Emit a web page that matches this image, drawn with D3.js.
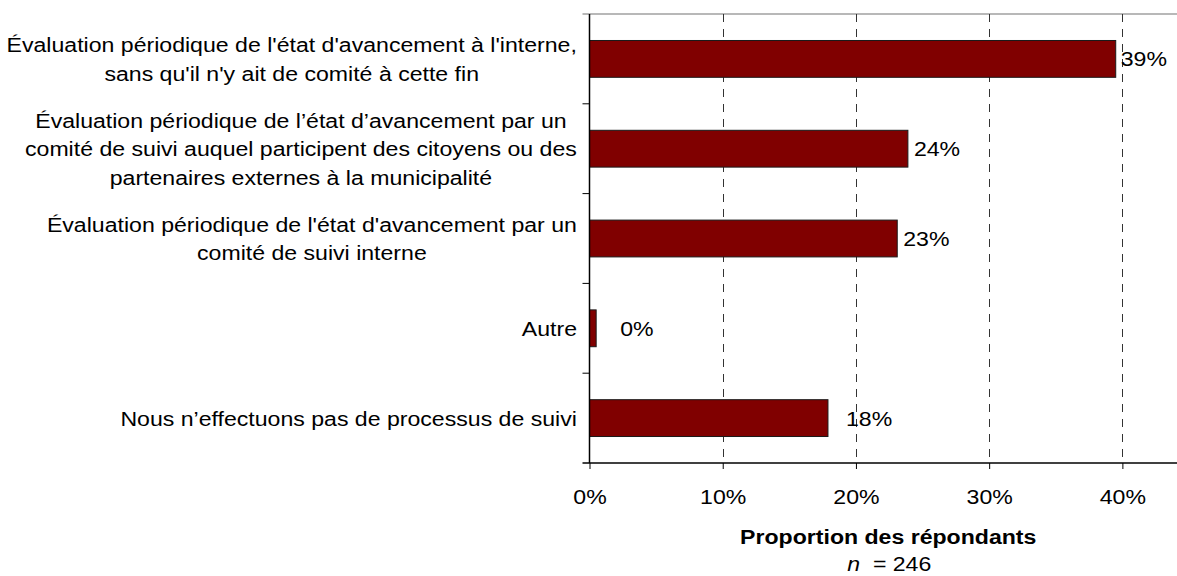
<!DOCTYPE html>
<html>
<head>
<meta charset="utf-8">
<script src="https://cdn.jsdelivr.net/npm/d3@7"></script>
<style>
  body { margin: 0; background: #fff; }
  svg { display: block; font-family: "Liberation Sans", Arial, sans-serif; }
</style>
</head>
<body>
<div id="chart"></div>
<script>
// Données
const categories = [
  ["Évaluation périodique de l'état d'avancement à l'interne,", "sans qu'il n'y ait de comité à cette fin"],
  ["Évaluation périodique de l’état d’avancement par un", "comité de suivi auquel participent des citoyens ou des", "partenaires externes à la municipalité"],
  ["Évaluation périodique de l'état d'avancement par un", "comité de suivi interne"],
  ["Autre"],
  ["Nous n’effectuons pas de processus de suivi"]
];
const values = [0.395, 0.239, 0.231, 0.005, 0.179];
const valueLabels = ["39%", "24%", "23%", "0%", "18%"];
const tickValues = [0, 0.1, 0.2, 0.3, 0.4];
const axisTitle = "Proportion des répondants";
const sampleSize = 246;

// décalage des étiquettes (comme dans le graphique d'origine)
const labelDx = [5, 6, 6, 24, 18];

const width = 1177, height = 576;
const margin = { top: 14, right: 0, bottom: 113, left: 589.5 };
const fontSize = 21;
const stretch = 'scale(1.1,1)'; // le texte d'origine est un peu élargi

const svg = d3.select('#chart').append('svg')
  .attr('width', width)
  .attr('height', height);

const x = d3.scaleLinear()
  .domain([0, 0.441])
  .range([margin.left, width - margin.right]);

const y = d3.scaleBand()
  .domain(d3.range(categories.length))
  .range([margin.top, height - margin.bottom])
  .paddingInner(0.59)
  .paddingOuter(0.295);

const plotTop = margin.top, plotBottom = height - margin.bottom;

// Bordure supérieure grise
svg.append('line')
  .attr('x1', margin.left - 7).attr('x2', width)
  .attr('y1', plotTop).attr('y2', plotTop)
  .attr('stroke', '#a0a0a0').attr('stroke-width', 1.5);

// Grille verticale pointillée
svg.append('g')
  .selectAll('line')
  .data(tickValues.filter(d => d > 0))
  .join('line')
  .attr('x1', d => Math.round(x(d)) + 0.5)
  .attr('x2', d => Math.round(x(d)) + 0.5)
  .attr('y1', plotTop)
  .attr('y2', plotBottom)
  .attr('stroke', '#333')
  .attr('stroke-width', 1)
  .attr('stroke-dasharray', '8,7');

// Barres
svg.append('g')
  .selectAll('rect')
  .data(values)
  .join('rect')
  .attr('x', x(0))
  .attr('y', (d, i) => y(i))
  .attr('width', d => x(d) - x(0))
  .attr('height', y.bandwidth())
  .attr('fill', '#800000')
  .attr('stroke', '#1a1a1a')
  .attr('stroke-width', 1);

// Étiquettes de valeur
svg.append('g')
  .selectAll('text')
  .data(values)
  .join('text')
  .attr('transform', (d, i) => `translate(${x(d) + labelDx[i]},${y(i) + y.bandwidth() / 2}) ${stretch}`)
  .attr('dy', '0.36em')
  .attr('font-size', fontSize)
  .attr('fill', '#000')
  .text((d, i) => valueLabels[i]);

// Axe X
const xAxis = d3.axisBottom(x)
  .tickValues(tickValues)
  .tickFormat(d3.format('.0%'))
  .tickSize(6)
  .tickSizeOuter(0)
  .tickPadding(20);

const gx = svg.append('g')
  .attr('transform', `translate(0,${plotBottom})`)
  .call(xAxis);
gx.select('.domain').remove();
gx.selectAll('.tick line').attr('stroke', '#000');
gx.selectAll('.tick text')
  .attr('font-size', fontSize)
  .attr('font-family', '"Liberation Sans", Arial, sans-serif')
  .attr('fill', '#000')
  .attr('transform', stretch);
svg.append('line')
  .attr('x1', margin.left - 7).attr('x2', width)
  .attr('y1', plotBottom).attr('y2', plotBottom)
  .attr('stroke', '#000').attr('stroke-width', 1.5);

// Axe Y (traits aux limites des catégories)
svg.append('line')
  .attr('x1', margin.left).attr('x2', margin.left)
  .attr('y1', plotTop).attr('y2', plotBottom)
  .attr('stroke', '#000').attr('stroke-width', 1.5);

const step = y.step();
const boundaries = d3.range(categories.length + 1).map(i => y(0) - y.paddingOuter() * step + i * step);
svg.append('g')
  .selectAll('line')
  .data(boundaries.slice(1, -1))
  .join('line')
  .attr('x1', margin.left - 7).attr('x2', margin.left)
  .attr('y1', d => d).attr('y2', d => d)
  .attr('stroke', '#000').attr('stroke-width', 1);

// Libellés des catégories : bloc aligné à droite, lignes centrées
const lineH = 28.5;
const labelRight = 577;
const catG = svg.append('g');
categories.forEach((lines, i) => {
  const cy = y(i) + y.bandwidth() / 2;
  const g = catG.append('g');
  const t = g.append('text')
    .attr('font-size', fontSize)
    .attr('fill', '#000')
    .attr('text-anchor', 'middle');
  lines.forEach((ln, j) => {
    t.append('tspan')
      .attr('x', 0)
      .attr('y', (j - (lines.length - 1) / 2) * lineH)
      .attr('dy', '0.36em')
      .text(ln);
  });
  const maxW = d3.max(t.selectAll('tspan').nodes(), n => n.getComputedTextLength()) * 1.1;
  g.attr('transform', `translate(${labelRight - maxW / 2},${cy}) ${stretch}`);
});

// Titre de l'axe
const cx = (x(0) + width) / 2 + 5;
svg.append('text')
  .attr('transform', `translate(${cx},544) ${stretch}`)
  .attr('text-anchor', 'middle')
  .attr('font-size', fontSize)
  .attr('font-weight', 'bold')
  .text(axisTitle);

const nt = svg.append('text')
  .attr('transform', `translate(${cx + 1},571) ${stretch}`)
  .attr('text-anchor', 'middle')
  .attr('font-size', fontSize)
  .style('white-space', 'pre');
nt.append('tspan').attr('font-style', 'italic').text('n');
nt.append('tspan').text('  = ' + sampleSize);
</script>
</body>
</html>
